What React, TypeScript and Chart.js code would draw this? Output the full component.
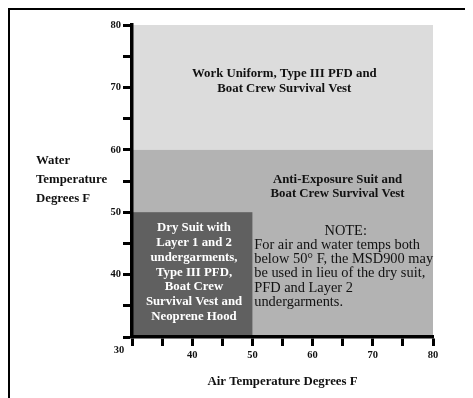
import React, { useEffect, useRef } from 'react';
import { Chart, registerables } from 'chart.js';

Chart.register(...registerables);

// ---- data ----
const zoneAirFrom = [30, 30, 30];
const zoneAirTo = [80, 80, 50];
const zoneWaterFrom = [60, 30, 30];
const zoneWaterTo = [80, 60, 50];
const zoneColors = ['#dcdcdc', '#b3b3b3', '#606060'];

const workLines = ['Work Uniform, Type III PFD and', 'Boat Crew Survival Vest'];
const antiLines = ['Anti-Exposure Suit and', 'Boat Crew Survival Vest'];
const dryLines = [
  'Dry Suit with',
  'Layer 1 and 2',
  'undergarments,',
  'Type III PFD,',
  'Boat Crew',
  'Survival Vest and',
  'Neoprene Hood',
];
const noteTitle = 'NOTE:';
const noteLines = [
  'For air and water temps both',
  'below 50\u00b0 F, the MSD900 may',
  'be used in lieu of the dry suit,',
  'PFD and Layer 2',
  'undergarments.',
];
const yTitleLines = ['Water', 'Temperature', 'Degrees F'];
const xTitle = 'Air Temperature Degrees F';
const axisMin = 30;
const axisMax = 80;
const tickStep = 5;
const labelStep = 10;

const SERIF = '"Liberation Serif", "Times New Roman", serif';
const BOLD = `bold 12.8px ${SERIF}`;
const NORMAL = `14.4px ${SERIF}`;
const INK = '#111111';

const zonesPlugin = {
  id: 'zones',
  beforeDraw(chart: any) {
    const { ctx } = chart;
    const xs = chart.scales.x;
    const ys = chart.scales.y;
    ctx.save();
    zoneColors.forEach((c, i) => {
      const x0 = xs.getPixelForValue(zoneAirFrom[i]);
      const x1 = xs.getPixelForValue(zoneAirTo[i]);
      const y0 = ys.getPixelForValue(zoneWaterTo[i]);
      const y1 = ys.getPixelForValue(zoneWaterFrom[i]);
      ctx.fillStyle = c;
      ctx.fillRect(x0, y0, x1 - x0, y1 - y0);
    });
    ctx.restore();
  },
  afterDraw(chart: any) {
    const { ctx, chartArea } = chart;
    const xs = chart.scales.x;
    const ys = chart.scales.y;
    const X = (v: number) => xs.getPixelForValue(v);
    const Y = (v: number) => ys.getPixelForValue(v);
    ctx.save();
    ctx.textBaseline = 'middle';

    const block = (lines: string[], cx: number, y0: number, lh: number, font: string, color: string, align: CanvasTextAlign = 'center') => {
      ctx.font = font;
      ctx.fillStyle = color;
      ctx.textAlign = align;
      lines.forEach((l, i) => ctx.fillText(l, cx, y0 + i * lh));
    };

    block(workLines, X(55.3), Y(72.15), 15, BOLD, INK);
    block(antiLines, X(64.15), Y(55.16), 14, BOLD, INK);
    block(dryLines, X(40.3), Y(47.45), 14.7, BOLD, '#ffffff');
    block([noteTitle], X(65.5), Y(47.0), 14.3, NORMAL, INK);
    block(noteLines, X(50.3), Y(44.74), 14.3, NORMAL, INK, 'left');

    // y-axis title (left of axis)
    block(yTitleLines, 26, Y(58.2), 19, BOLD, INK, 'left');
    // x-axis title
    block([xTitle], (chartArea.left + chartArea.right) / 2, chartArea.bottom + 45, 0, BOLD, INK);
    // shared origin label
    block([String(axisMin)], chartArea.left - 13, chartArea.bottom + 13, 0, `bold 10.5px ${SERIF}`, INK);
    ctx.restore();
  },
};

const tickCallback = (v: any) => {
  const n = Number(v);
  return n % labelStep === 0 && n !== axisMin ? String(n) : '';
};

const axisCommon = {
  type: 'linear' as const,
  min: axisMin,
  max: axisMax,
  grid: {
    display: true,
    drawOnChartArea: false,
    drawTicks: true,
    tickLength: 9,
    tickWidth: 3,
    tickColor: '#000',
  },
  border: { display: true, width: 3.5, color: '#000' },
};

export default function App() {
  const ref = useRef<HTMLCanvasElement | null>(null);
  useEffect(() => {
    if (!ref.current) return;
    const chart = new Chart(ref.current, {
      type: 'scatter',
      data: { datasets: [{ data: [], showLine: false }] },
      options: {
        animation: false,
        responsive: false,
        devicePixelRatio: 1,
        layout: { padding: { left: 0, right: 40, top: 15, bottom: 0 } },
        plugins: { legend: { display: false }, tooltip: { enabled: false }, title: { display: false } },
        scales: {
          x: {
            ...axisCommon,
            position: 'bottom',
            ticks: {
              stepSize: tickStep,
              autoSkip: false,
              maxRotation: 0,
              padding: 3,
              color: INK,
              font: { family: SERIF, size: 10.5, weight: 'bold' },
              callback: tickCallback,
            },
            afterFit: (s: any) => {
              s.height = 61;
            },
          },
          y: {
            ...axisCommon,
            position: 'left',
            ticks: {
              stepSize: tickStep,
              autoSkip: false,
              padding: 2,
              color: INK,
              font: { family: SERIF, size: 10.5, weight: 'bold' },
              callback: tickCallback,
            },
            afterFit: (s: any) => {
              s.width = 122;
            },
          },
        },
      } as any,
      plugins: [zonesPlugin],
    });
    return () => chart.destroy();
  }, []);
  return (
    <div style={{ width: 463, height: 388, borderTop: '2px solid #000', borderLeft: '2px solid #000' }}>
      <canvas ref={ref} width={463} height={388} style={{ display: 'block', width: 463, height: 388 }} />
    </div>
  );
}
